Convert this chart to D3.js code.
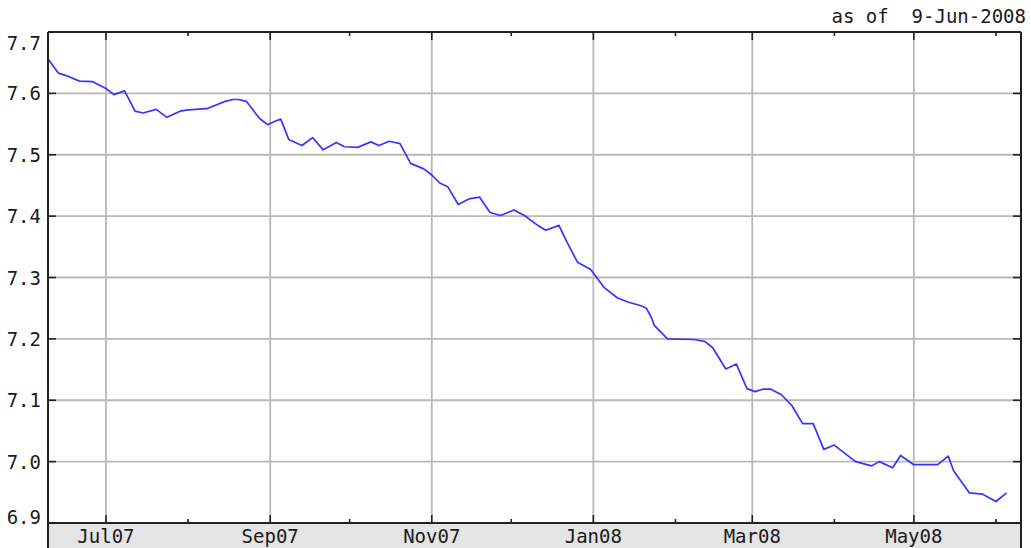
<!DOCTYPE html>
<html>
<head>
<meta charset="utf-8">
<script src="https://cdn.jsdelivr.net/npm/d3@7"></script>
<style>
  html, body { margin: 0; padding: 0; background: #fff; }
  svg { display: block; }
  text { font-family: "DejaVu Sans Mono", monospace; fill: #1a1a1a; white-space: pre; }
</style>
</head>
<body>
<svg id="chart" width="1031" height="548"></svg>
<script>
// ---- data ----
const dates = [
  "2007-06-09","2007-06-13","2007-06-16","2007-06-21","2007-06-26","2007-07-01","2007-07-04","2007-07-08",
  "2007-07-12","2007-07-15","2007-07-20","2007-07-24","2007-07-29","2007-08-01","2007-08-08","2007-08-15",
  "2007-08-18","2007-08-20","2007-08-23","2007-08-28","2007-08-31","2007-09-03","2007-09-05","2007-09-08",
  "2007-09-13","2007-09-17","2007-09-21","2007-09-26","2007-09-29","2007-10-04","2007-10-09","2007-10-12",
  "2007-10-16","2007-10-20","2007-10-24","2007-10-29","2007-11-01","2007-11-04","2007-11-07","2007-11-11",
  "2007-11-15","2007-11-19","2007-11-23","2007-11-27","2007-12-02","2007-12-06","2007-12-11","2007-12-14",
  "2007-12-19","2007-12-22","2007-12-26","2007-12-31","2008-01-05","2008-01-10","2008-01-14","2008-01-19",
  "2008-01-21","2008-01-23","2008-01-24","2008-01-29","2008-02-08","2008-02-12","2008-02-15","2008-02-20",
  "2008-02-24","2008-02-28","2008-03-02","2008-03-05","2008-03-08","2008-03-12","2008-03-16","2008-03-20",
  "2008-03-24","2008-03-28","2008-04-01","2008-04-03","2008-04-09","2008-04-15","2008-04-18","2008-04-23",
  "2008-04-26","2008-05-01","2008-05-10","2008-05-14","2008-05-16","2008-05-22","2008-05-27","2008-06-01",
  "2008-06-05"
];
const values = [
  7.657,7.633,7.629,7.620,7.619,7.608,7.598,7.604,
  7.571,7.568,7.574,7.561,7.571,7.573,7.575,7.587,
  7.590,7.590,7.587,7.559,7.549,7.555,7.558,7.525,
  7.515,7.528,7.508,7.520,7.513,7.512,7.521,7.515,
  7.522,7.518,7.486,7.477,7.467,7.454,7.448,7.419,
  7.428,7.431,7.406,7.401,7.410,7.401,7.385,7.377,
  7.385,7.358,7.325,7.313,7.284,7.267,7.260,7.254,
  7.250,7.234,7.222,7.200,7.199,7.196,7.186,7.151,
  7.159,7.119,7.114,7.118,7.118,7.109,7.091,7.062,
  7.062,7.020,7.027,7.020,7.000,6.993,7.000,6.990,
  7.010,6.995,6.995,7.009,6.985,6.949,6.947,6.935,
  6.949
];
const yTicks = [6.9, 7.0, 7.1, 7.2, 7.3, 7.4, 7.5, 7.6, 7.7];
const yTickLabels = ["6.9","7.0","7.1","7.2","7.3","7.4","7.5","7.6","7.7"];
const majorTicks = ["2007-07-01","2007-09-01","2007-11-01","2008-01-01","2008-03-01","2008-05-01"];
const majorLabels = ["Jul07","Sep07","Nov07","Jan08","Mar08","May08"];
const minorTicks = ["2007-08-01","2007-10-01","2007-12-01","2008-02-01","2008-04-01","2008-06-01"];
const domainDates = ["2007-06-09","2008-06-10"];
const yDomain = [6.9, 7.7];
const asOfText = "as of  9-Jun-2008";

// ---- layout ----
const L = 48, R = 1021, T = 32, B = 523, H = 548;
const parse = d3.utcParse("%Y-%m-%d");
const x = d3.scaleUtc().domain(domainDates.map(parse)).range([47.7, 1019.8]);
const y = d3.scaleLinear().domain(yDomain).range([B, T]);

const svg = d3.select("#chart");

// bottom band
svg.append("rect").attr("x", L).attr("y", B).attr("width", R - L).attr("height", H - B)
  .attr("fill", "#e4e4e4");

// grid
const grid = svg.append("g").attr("stroke", "#b8b8b8").attr("stroke-width", 1.8);
yTicks.filter(v => v > yDomain[0] && v < yDomain[1]).forEach(v => {
  grid.append("line").attr("x1", L).attr("x2", R).attr("y1", y(v)).attr("y2", y(v));
});
majorTicks.forEach(d => {
  const xx = x(parse(d));
  grid.append("line").attr("x1", xx).attr("x2", xx).attr("y1", T).attr("y2", B);
});

// line
const line = d3.line().x((d, i) => x(parse(dates[i]))).y(d => y(d));
svg.append("path").datum(values)
  .attr("d", line)
  .attr("fill", "none")
  .attr("stroke", "#3535ff")
  .attr("stroke-width", 1.7)
  .attr("stroke-linejoin", "round");

// ticks
const tk = svg.append("g").attr("stroke", "#222").attr("stroke-width", 1.6);
yTicks.forEach(v => {
  tk.append("line").attr("x1", L).attr("x2", L + 8).attr("y1", y(v)).attr("y2", y(v));
  tk.append("line").attr("x1", R).attr("x2", R - 8).attr("y1", y(v)).attr("y2", y(v));
});
majorTicks.forEach(d => {
  const xx = x(parse(d));
  tk.append("line").attr("x1", xx).attr("x2", xx).attr("y1", T).attr("y2", T + 8);
  tk.append("line").attr("x1", xx).attr("x2", xx).attr("y1", B).attr("y2", B - 8);
});
minorTicks.forEach(d => {
  const xx = x(parse(d));
  tk.append("line").attr("x1", xx).attr("x2", xx).attr("y1", T).attr("y2", T + 4);
  tk.append("line").attr("x1", xx).attr("x2", xx).attr("y1", B).attr("y2", B - 4);
});

// frame
const fr = svg.append("g").attr("stroke", "#222").attr("stroke-width", 2).attr("fill", "none");
fr.append("line").attr("x1", L).attr("x2", R).attr("y1", T).attr("y2", T);
fr.append("line").attr("x1", L).attr("x2", R).attr("y1", B).attr("y2", B);
fr.append("line").attr("x1", L).attr("x2", L).attr("y1", T).attr("y2", H);
fr.append("line").attr("x1", R).attr("x2", R).attr("y1", T).attr("y2", H);

// y labels
yTicks.forEach((v, i) => {
  const cy = Math.max(43, Math.min(517, y(v)));
  svg.append("text").attr("x", 41).attr("y", cy + 7)
    .attr("text-anchor", "end").attr("font-size", 19)
    .text(yTickLabels[i]);
});

// x labels
majorTicks.forEach((d, i) => {
  svg.append("text").attr("x", x(parse(d))).attr("y", 543)
    .attr("text-anchor", "middle").attr("font-size", 19)
    .text(majorLabels[i]);
});

// as-of text
svg.append("text").attr("x", 1026).attr("y", 23)
  .attr("text-anchor", "end").attr("font-size", 19)
  .text(asOfText);
</script>
</body>
</html>
